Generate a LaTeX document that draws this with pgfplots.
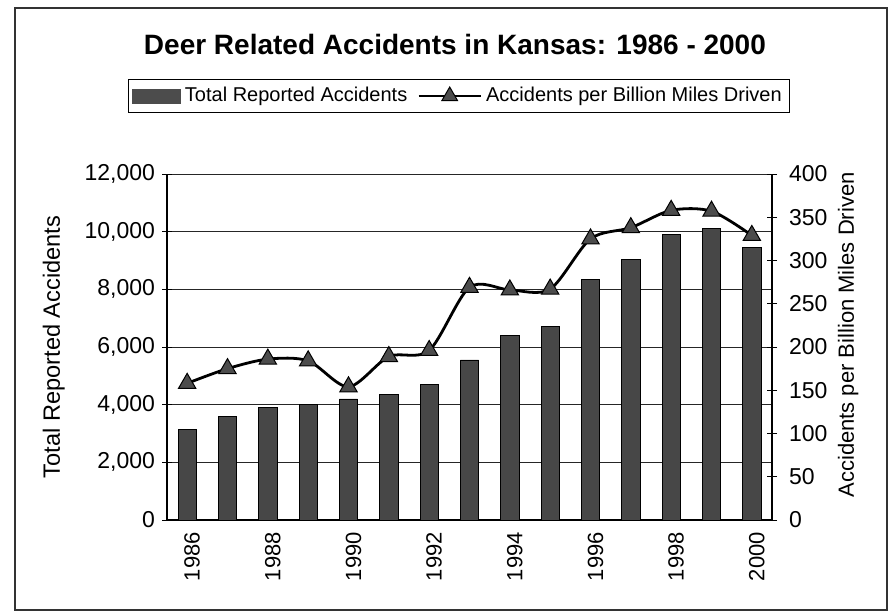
\documentclass[border=0pt]{standalone}
\usepackage{pgfplots}
\pgfplotsset{compat=1.18}
\usepackage{pgfplotstable}
\usepackage{fontspec}
\setmainfont{Liberation Sans}

% deer related accidents in Kansas
\pgfplotstableread{
idx year total rate
0  1986 3150  158
1  1987 3600  175
2  1988 3900  186
3  1989 4000  184
4  1990 4200  154
5  1991 4350  189
6  1992 4700  196
7  1993 5550  269
8  1994 6400  266
9  1995 6700  267
10 1996 8350  325
11 1997 9050  338
12 1998 9900  358
13 1999 10100 357
14 2000 9450  329
}\deerdata

\pgfplotsset{
  common/.style={
    at={(83.5pt,-260pt)}, anchor=south west,
    scale only axis, width=302.5pt, height=173pt,
    xmin=-0.5, xmax=14.5,
    tick align=center,
    major tick length=5pt,
    minor tick length=4pt,
    axis line style={black, line width=0.6pt},
    every tick/.style={black, line width=0.5pt},
    tick label style={font=\fontsize{11.5}{13}\selectfont},
    /pgf/number format/assume math mode=true,
    /pgf/number format/1000 sep={,},
    scaled y ticks=false,
  },
  tri legend/.style={
    legend image code/.code={\draw[mark repeat=2, mark phase=2, ##1] plot coordinates {(0pt,0pt) (15.5pt,0pt) (31pt,0pt)};}
  },
}

\begin{document}
\begin{tikzpicture}
\useasboundingbox (0,0) rectangle (445pt,-306pt);
\draw[black!80, line width=0.6pt] (7.5pt,-4pt) rectangle (443.5pt,-305pt);

\begin{axis}[
  common,
  ymin=0, ymax=12000,
  axis x line*=bottom, axis y line*=left,
  ytick={0,2000,...,12000},
  ymajorgrids,
  grid style={black!85, line width=0.5pt},
  xtick={0,2,...,14},
  xticklabels={1986,1988,1990,1992,1994,1996,1998,2000},
  x tick style={draw=none},
  minor xtick={-0.5,0.5,...,14.5},
  x tick label style={rotate=90, anchor=east, yshift=-2.5pt, font=\fontsize{11}{13}\selectfont},
  ylabel={Total Reported Accidents},
  every axis y label/.style={at={(axis description cs:-0.187,0.5)}, rotate=90, anchor=center,
    font=\fontsize{11.8}{14}\selectfont},
  every axis title shift=0pt,
  title={\bfseries Deer Related Accidents in Kansas: 1986 - 2000},
  title style={at={(axis description cs:0.476,1.373)}, anchor=center, font=\fontsize{14}{16}\selectfont},
  legend columns=2,
  legend style={at={(axis description cs:0.4826,1.2254)}, anchor=center,
    draw=black, line width=0.6pt, inner sep=2pt,
    font=\fontsize{10}{12}\selectfont,
    /tikz/every even column/.append style={column sep=3pt}},
]
\addplot[ybar, bar width=0.45, fill=black!72, draw=black, line width=0.4pt,
  legend image code/.code={\fill[black!70] (0pt,-3.5pt) rectangle (24pt,3.5pt);}]
  table[x=idx, y=total] {\deerdata};
\addlegendentry{Total Reported Accidents}
\addlegendimage{black, line width=1.4pt, mark=triangle*, mark size=4.5pt,
  mark options={fill=black!70, draw=black, line width=0.5pt}, tri legend}
\addlegendentry{Accidents per Billion Miles Driven}
\end{axis}

\begin{axis}[
  common,
  ymin=0, ymax=400,
  axis y line*=right, axis x line=none,
  ytick={0,50,...,400},
  y tick label style={xshift=2.5pt},
  ylabel={Accidents per Billion Miles Driven},
  every axis y label/.style={at={(axis description cs:1.126,0.535)}, rotate=90, anchor=center,
    font=\fontsize{11}{13}\selectfont},
]
\addplot[black, line width=1.4pt, smooth, mark=triangle*, mark size=5pt,
  mark options={fill=black!70, draw=black, line width=0.5pt}]
  table[x=idx, y=rate] {\deerdata};
\end{axis}
\end{tikzpicture}
\end{document}
